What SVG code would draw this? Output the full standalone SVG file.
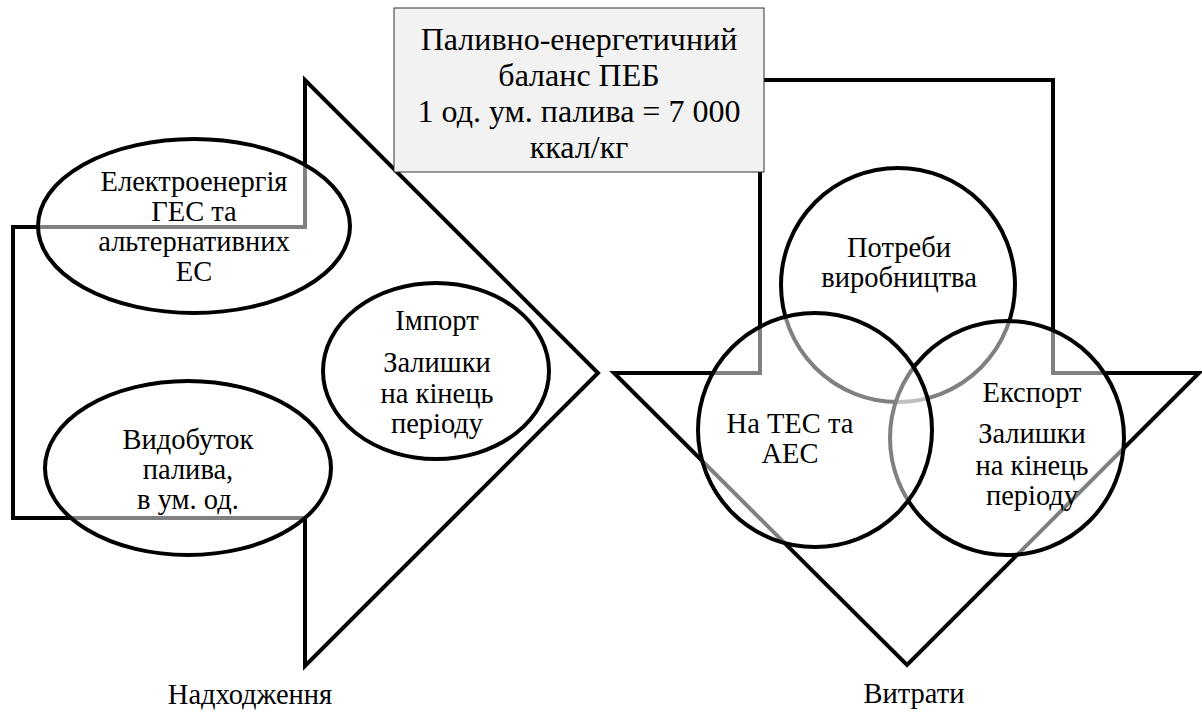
<svg xmlns="http://www.w3.org/2000/svg" width="1202" height="713" viewBox="0 0 1202 713">
<style>
.arrow{fill:none;stroke:#000;stroke-width:4;stroke-linejoin:miter;stroke-miterlimit:10}
.node{fill:#fff;fill-opacity:0.5;stroke:#000;stroke-width:4}
.box{fill:#f2f2f2;stroke:#333;stroke-width:1}
.t{font-size:28.5px}
.tb{font-size:32px}
</style>
<rect width="1202" height="713" fill="#fff"/>
<g id="connectors">
<polygon id="arrow-in" class="arrow" points="13,227 305,227 305,80 598,373 305,666 305,518 13,518"/>
<polygon id="arrow-out" class="arrow" points="760,80 1053,80 1053,373 1199,373 907,665 614,373 760,373"/>
</g>
<g font-family="'Liberation Serif', 'DejaVu Serif', serif" text-anchor="middle" fill="#000">
<g id="peb">
<rect class="box" x="394" y="8" width="370" height="164"/>
<text class="tb" x="579" y="50">Паливно-енергетичний</text>
<text class="tb" x="579" y="86">баланс ПЕБ</text>
<text class="tb" x="579" y="122">1 од. ум. палива = 7 000</text>
<text class="tb" x="579" y="158">ккал/кг</text>
</g>
<g id="electro">
<ellipse class="node" cx="194" cy="226" rx="156" ry="87"/>
<text class="t" x="194" y="191">Електроенергія</text>
<text class="t" x="194" y="221">ГЕС та</text>
<text class="t" x="194" y="251">альтернативних</text>
<text class="t" x="194" y="281">ЕС</text>
</g>
<g id="import">
<ellipse class="node" cx="436" cy="371" rx="113" ry="88"/>
<text class="t" x="437" y="330">Імпорт</text>
<text class="t" x="437" y="372">Залишки</text>
<text class="t" x="437" y="403">на кінець</text>
<text class="t" x="437" y="433">періоду</text>
</g>
<g id="vydobutok">
<ellipse class="node" cx="188" cy="468" rx="143" ry="87"/>
<text class="t" x="188" y="449">Видобуток</text>
<text class="t" x="188" y="479">палива,</text>
<text class="t" x="188" y="509">в ум. од.</text>
</g>
<g id="potreby">
<circle class="node" cx="898" cy="285" r="117"/>
<text class="t" x="899" y="257">Потреби</text>
<text class="t" x="899" y="287">виробництва</text>
</g>
<g id="eksport">
<circle class="node" cx="1007" cy="438" r="117"/>
<text class="t" x="1032" y="402">Експорт</text>
<text class="t" x="1032" y="443">Залишки</text>
<text class="t" x="1032" y="475">на кінець</text>
<text class="t" x="1032" y="505">періоду</text>
</g>
<g id="tes">
<circle class="node" cx="815" cy="430" r="117"/>
<text class="t" x="790" y="433">На ТЕС та</text>
<text class="t" x="790" y="463">АЕС</text>
</g>
<g id="labels">
<text class="t" x="250" y="704">Надходження</text>
<text class="t" x="914" y="703">Витрати</text>
</g>
</g>
</svg>
